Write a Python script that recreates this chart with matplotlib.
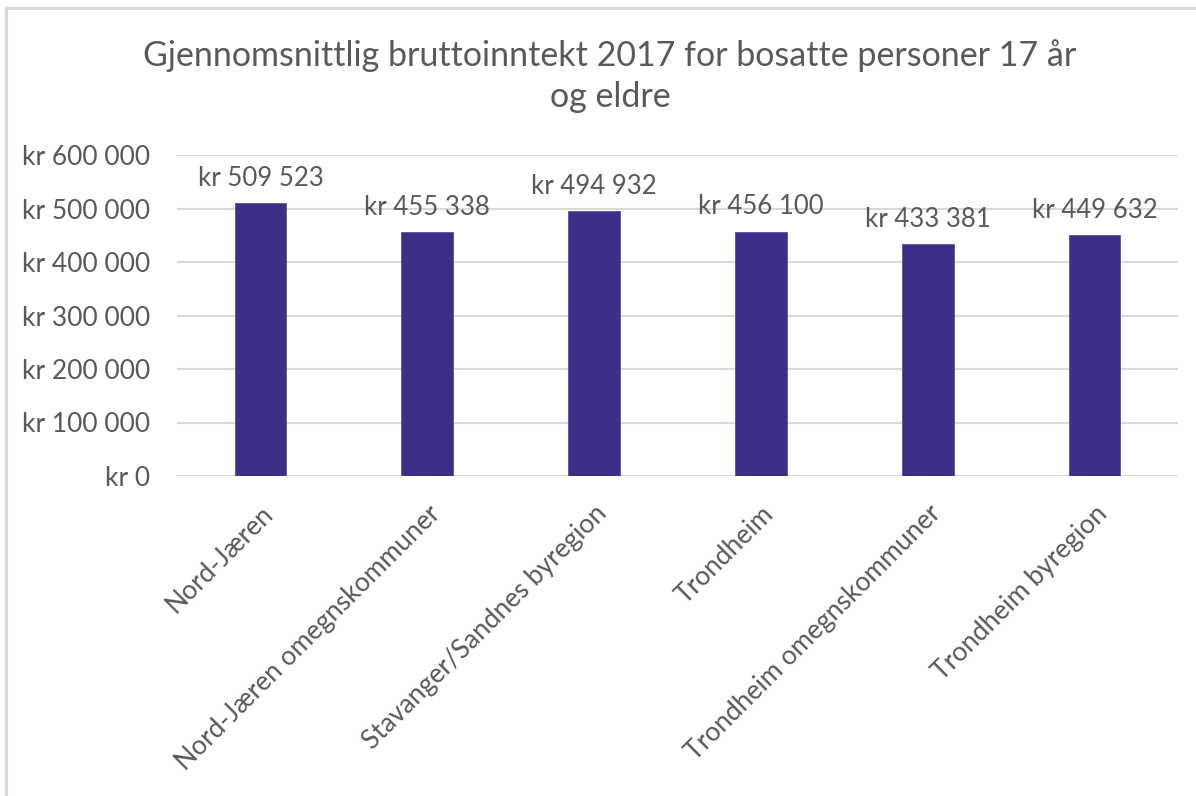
import numpy as np
import matplotlib.pyplot as plt
from matplotlib.lines import Line2D
from matplotlib.ticker import FuncFormatter

categories = ['Nord-Jæren', 'Nord-Jæren omegnskommuner', 'Stavanger/Sandnes byregion',
              'Trondheim', 'Trondheim omegnskommuner', 'Trondheim byregion']
values = [509523, 455338, 494932, 456100, 433381, 449632]
y_ticks = [0, 100000, 200000, 300000, 400000, 500000, 600000]
title = 'Gjennomsnittlig bruttoinntekt 2017 for bosatte personer 17 år\nog eldre'

text_color = '#595959'
bar_color = '#3b2f87'
grid_color = '#d9d9d9'

plt.rcParams['font.family'] = ['Lato', 'DejaVu Sans']


def kr_format(v, _pos=None):
    return 'kr ' + f'{int(round(v)):,}'.replace(',', ' ')


W, H = 1196, 796
fig = plt.figure(figsize=(W / 100, H / 100), dpi=100)
# plot area in pixels: left 177, right 1178, top (600k) 155, bottom (0) 476
ax = fig.add_axes([177 / W, 1 - 476 / H, (1178 - 177) / W, (476 - 155) / H])

x = np.arange(len(categories))
ax.bar(x, values, width=0.31, color=bar_color, edgecolor='#5a4fa8', linewidth=0.6, zorder=3)

for xi, v in zip(x, values):
    ax.annotate(kr_format(v), (xi, v), xytext=(0, 9), textcoords='offset points',
                ha='center', va='bottom', fontsize=18.5, color=text_color, zorder=4)

ax.set_xlim(-0.5, len(categories) - 0.5)
ax.set_ylim(0, 600000)
ax.set_yticks(y_ticks)
ax.yaxis.set_major_formatter(FuncFormatter(kr_format))
ax.grid(axis='y', color=grid_color, linewidth=1.5, zorder=0)
ax.set_xticks(x)
ax.set_xticklabels(categories, rotation=45, ha='right', rotation_mode='anchor')

for s in ax.spines.values():
    s.set_visible(False)
ax.tick_params(axis='both', length=0, labelsize=19, colors=text_color)
ax.tick_params(axis='y', pad=19)
ax.tick_params(axis='x', pad=18)
for lbl in ax.get_xticklabels():
    lbl.set_color(text_color)

fig.text(0.5 + 12 / W, 1 - 76 / H, title, ha='center', va='center', fontsize=24.5,
         color=text_color, linespacing=1.35)

# light chart border (top and left edges visible)
fig.add_artist(Line2D([6 / W, 6 / W], [0, 1 - 8 / H], color='#d9d9d9', lw=2.2,
                      transform=fig.transFigure))
fig.add_artist(Line2D([6 / W, 1], [1 - 8 / H, 1 - 8 / H], color='#d9d9d9', lw=2.2,
                      transform=fig.transFigure))

fig.savefig('out.png', dpi=100, facecolor='white')
